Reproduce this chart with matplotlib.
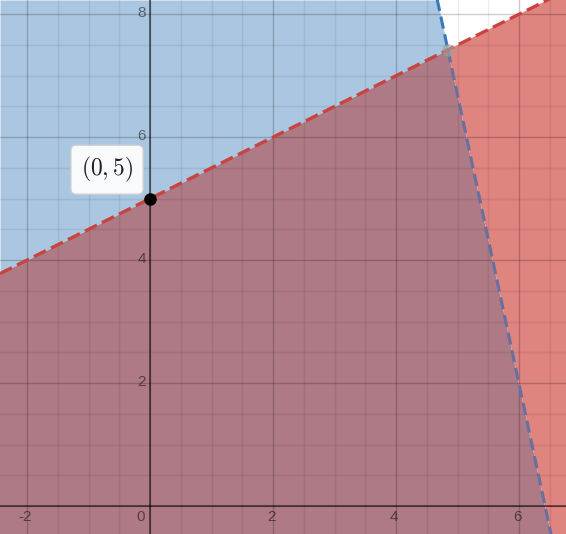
import numpy as np
import matplotlib
matplotlib.use("Agg")
import matplotlib.pyplot as plt

# Inequalities: y < 0.5x + 5 (red), y < -4.7x + 30.17 (blue)
red_slope, red_icpt = 0.5, 5.0
blue_slope, blue_icpt = -4.7, 30.17
point = (0, 5)
point_label = r"$(0,5)$"
x_ticks = [-2, 0, 2, 4, 6]
y_ticks = [2, 4, 6, 8]

xmin, xmax = -2.44, 6.76
ymin, ymax = -0.455, 8.23

plt.rcParams["mathtext.fontset"] = "cm"
fig = plt.figure(figsize=(5.66, 5.34), dpi=100)
ax = fig.add_axes([0, 0, 1, 1])
ax.set_xlim(xmin, xmax)
ax.set_ylim(ymin, ymax)
ax.axis("off")

x = np.linspace(xmin, xmax, 3000)
ry = red_slope * x + red_icpt
by = blue_slope * x + blue_icpt

c_blue = "#abc6e0"
c_red = "#df847f"
c_both = "#ae7a85"

ax.fill_between(x, ymin, np.minimum(np.minimum(ry, by), ymax), color=c_both, lw=0, zorder=1)
ax.fill_between(x, ry, np.minimum(by, ymax), where=by > ry, interpolate=True, color=c_blue, lw=0, zorder=1)
ax.fill_between(x, np.maximum(by, ymin), np.minimum(ry, ymax), where=ry > by, interpolate=True, color=c_red, lw=0, zorder=1)

# grid
for gx in np.arange(-2.5, 7.0, 0.5):
    major = abs(gx / 2 - round(gx / 2)) < 1e-9
    ax.axvline(gx, color="black", alpha=0.2 if major else 0.07, lw=1.0, zorder=2)
for gy in np.arange(-0.5, 8.5, 0.5):
    major = abs(gy / 2 - round(gy / 2)) < 1e-9
    ax.axhline(gy, color="black", alpha=0.2 if major else 0.07, lw=1.0, zorder=2)
ax.axhline(0, color="black", alpha=0.5, lw=1.4, zorder=3)
ax.axvline(0, color="black", alpha=0.5, lw=1.4, zorder=3)

# tick labels
for t in x_ticks:
    xp = -0.15 if t == 0 else t - 0.03
    ax.text(xp, -0.18, str(t), ha="center", va="center", fontsize=11,
            family="Liberation Sans", color="black", alpha=0.5, zorder=4)
for t in y_ticks:
    ax.text(-0.07, t + 0.02, str(t), ha="right", va="center", fontsize=11,
            family="Liberation Sans", color="black", alpha=0.5, zorder=4)

# blue boundary: bright where above red line, muted where under red shading
xi = (blue_icpt - red_icpt) / (red_slope - blue_slope)
yi = red_slope * xi + red_icpt
xb = np.linspace(xmin, xmax, 3000)
byb = blue_slope * xb + blue_icpt
upper = xb <= xi
ax.plot(xb[upper], byb[upper], color="#3a78bb", lw=2.2, dashes=(4.0, 1.9), zorder=3.5)
ax.plot(xb[~upper], byb[~upper], color="#67709f", lw=2.2, dashes=(4.0, 1.9), zorder=3.5)
ax.plot(x, ry, color="#c74440", lw=2.4, dashes=(4.0, 1.7), zorder=5)

# intersection point
ax.plot([xi], [yi], "o", color="#a0a0a0", alpha=0.65, ms=9, mec="none", zorder=6)

# labelled point
ax.plot([point[0]], [point[1]], "o", color="black", ms=8, zorder=7)
ax.text(-0.70, 5.47, point_label, ha="center", va="center", fontsize=17, color="#222222",
        zorder=8,
        bbox=dict(boxstyle="round,pad=0.42,rounding_size=0.22", fc="white", ec="#d0d0d0",
                  lw=1, alpha=0.93))

fig.savefig("out.png", dpi=100)
